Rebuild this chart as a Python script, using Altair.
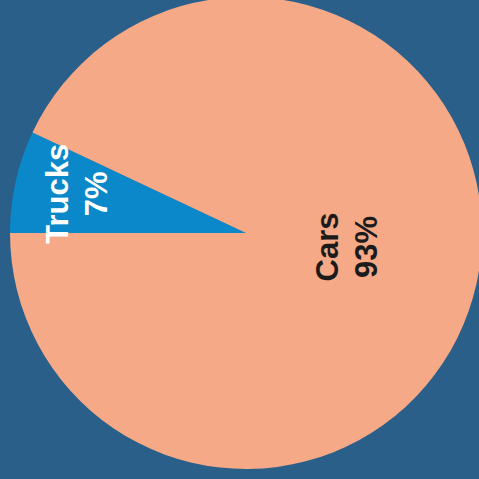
import altair as alt
import pandas as pd
import math

categories = ["Trucks", "Cars"]
shares = [7, 93]
order_idx = [0, 1]
slice_colors = ["#0a88c9", "#f5a987"]
label_colors = ["#ffffff", "#1b1b1b"]

df = pd.DataFrame({"cat": categories, "value": shares, "idx": order_idx})

start = 1.5 * math.pi
theta_scale = alt.Scale(domain=[0, 100], range=[start, start + 2 * math.pi])
CX, CY, R = 246, 233, 236

base = alt.Chart(df)

pie = base.mark_arc(stroke=None, strokeWidth=0).encode(
    theta=alt.Theta("value:Q", stack=True, scale=theta_scale),
    order=alt.Order("idx:O"),
    color=alt.Color("cat:N", scale=alt.Scale(domain=categories, range=slice_colors), legend=None),
    x=alt.value(CX), y=alt.value(CY), radius=alt.value(R),
)

labels_base = base.transform_window(
    cum="sum(value)", sort=[alt.SortField("idx")]
).transform_calculate(
    mid="datum.cum - datum.value / 2",
    label="datum.cat + '\\n' + datum.value + '%'",
)

def label_layer(cat, rad, col, dx, dy):
    return labels_base.transform_filter(alt.datum.cat == cat).mark_text(
        font="Liberation Sans", fontWeight="bold", fontSize=31, angle=270,
        align="center", baseline="middle", lineBreak="\n", lineHeight=39,
        color=col, dx=dx, dy=dy,
    ).encode(
        theta=alt.Theta("mid:Q", stack=None, scale=theta_scale),
        text="label:N",
        x=alt.value(CX), y=alt.value(CY), radius=alt.value(rad),
    )

t1 = label_layer("Trucks", 175, label_colors[0], 1, -16)
t2 = label_layer("Cars", 101, label_colors[1], 8, -16)

chart = alt.layer(pie, t1, t2).properties(
    width=479, height=479, padding=0, background="#2a5f8a",
    autosize=alt.AutoSizeParams(type="none"),
).resolve_scale(theta="shared").configure_view(stroke=None)

chart.save("out.html", embed_options={"renderer": "svg", "actions": False})
